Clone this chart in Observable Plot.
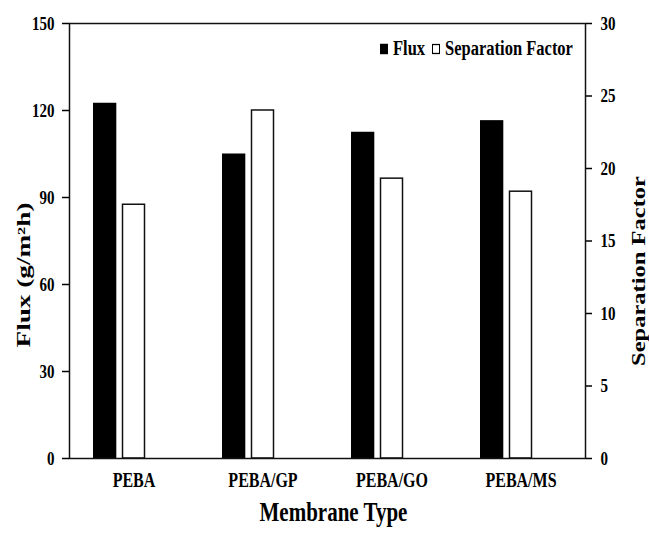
<!DOCTYPE html>
<html>
<head>
<meta charset="utf-8">
<script src="https://cdn.jsdelivr.net/npm/d3@7"></script>
<script src="https://cdn.jsdelivr.net/npm/@observablehq/plot@0.6"></script>
<style>
  html, body { margin: 0; padding: 0; background: #fff; }
  #wrap { position: relative; width: 649px; height: 534px; font-family: "Liberation Serif", "Times New Roman", serif; }
  #legend { position: absolute; left: 380px; top: 39px; display: flex; align-items: center; font-weight: bold; font-size: 16.5px; color: #000; transform: scaleY(1.28); transform-origin: left center; }
  #legend .sw { width: 8px; height: 8px; box-sizing: border-box; border: 1.5px solid #000; margin-right: 5px; }
  #legend .item { display: flex; align-items: center; margin-right: 7px; }
</style>
</head>
<body>
<div id="wrap"></div>
<script>
const categories = ["PEBA", "PEBA/GP", "PEBA/GO", "PEBA/MS"];
const flux = [122.5, 105, 112.5, 116.5];
const sepFactor = [17.5, 24, 19.3, 18.4];
const fluxTicks = [0, 30, 60, 90, 120, 150];
const sepTicks = [0, 5, 10, 15, 20, 25, 30];
const seriesNames = ["Flux", "Separation Factor"];
const seriesFills = ["#000", "#fff"];
const xTitle = "Membrane Type";
const yTitle = "Flux (g/m\u00B2h)";
const y2Title = "Separation Factor";

const ratio = 150 / 30;
const data = categories.map((c, i) => ({membrane: c, flux: flux[i], sep: sepFactor[i]}));

const chart = Plot.plot({
  width: 649,
  height: 534,
  marginLeft: 69,
  marginRight: 64,
  marginTop: 23,
  marginBottom: 76,
  style: {fontFamily: "'Liberation Serif', 'Times New Roman', serif", fontWeight: "bold", fontSize: "15px", color: "#000", background: "#fff"},
  x: {domain: categories, padding: 0, label: null},
  y: {domain: [0, 150], label: null},
  marks: [
    Plot.barY(data, {x: "membrane", y: "flux", fill: seriesFills[0], insetLeft: 24, insetRight: 81.7}),
    Plot.barY(data, {x: "membrane", y: d => d.sep * ratio, fill: seriesFills[1], stroke: "#111", strokeWidth: 1.5, insetLeft: 53.5, insetRight: 53.5}),
    Plot.axisX({tickSize: 0, tickPadding: 14, fontSize: 16, label: null}),
    Plot.axisY({anchor: "left", ticks: fluxTicks, tickSize: 7, tickPadding: 8, strokeWidth: 1.5, label: null}),
    Plot.axisY({anchor: "right", ticks: sepTicks.map(v => v * ratio), tickFormat: v => v / ratio, tickSize: 6, tickPadding: 9, strokeWidth: 1.5, label: null}),
    Plot.frame({stroke: "#111", strokeWidth: 1.5}),
    Plot.text([xTitle], {frameAnchor: "bottom", textAnchor: "middle", dy: 62, dx: 6, fontSize: 21, fontWeight: "bold"}),
    Plot.text([yTitle], {frameAnchor: "left", textAnchor: "middle", rotate: -90, dx: -45, dy: 34, fontSize: 18, fontWeight: "bold"}),
    Plot.text([y2Title], {frameAnchor: "right", textAnchor: "middle", rotate: -90, dx: 54, dy: 30, fontSize: 18, fontWeight: "bold"})
  ]
});

const wrap = document.getElementById("wrap");
wrap.appendChild(chart);

// the reference image is stretched vertically: mimic it on the texts
d3.select(chart).selectAll("text").each(function() {
  const t = this.textContent;
  const sel = d3.select(this);
  const tr = sel.attr("transform") || "";
  if (t === yTitle || t === y2Title) {
    const target = t === yTitle ? 145 : 190;
    const s = target / this.getComputedTextLength();
    sel.attr("transform", tr + ` scale(${s},1)`);
  } else {
    sel.attr("transform", tr + " scale(1,1.28)");
  }
});

const legend = document.createElement("div");
legend.id = "legend";
seriesNames.forEach((name, i) => {
  const item = document.createElement("div");
  item.className = "item";
  const sw = document.createElement("div");
  sw.className = "sw";
  sw.style.background = seriesFills[i];
  const lab = document.createElement("span");
  lab.textContent = name;
  item.appendChild(sw);
  item.appendChild(lab);
  legend.appendChild(item);
});
wrap.appendChild(legend);
</script>
</body>
</html>
